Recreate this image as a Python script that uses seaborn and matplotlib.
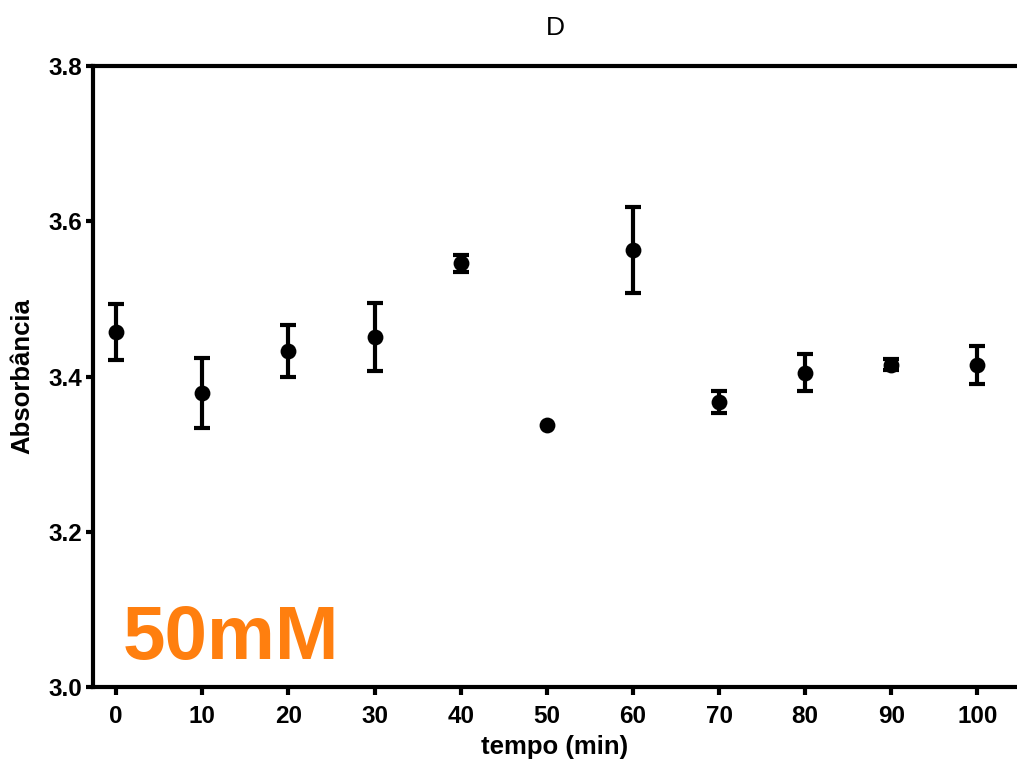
import matplotlib
matplotlib.use("Agg")
import matplotlib.pyplot as plt
import seaborn as sns
import pandas as pd

tempo = [0, 10, 20, 30, 40, 50, 60, 70, 80, 90, 100]
absorbancia = [3.457, 3.379, 3.433, 3.451, 3.546, 3.338, 3.563, 3.367, 3.405, 3.415, 3.415]
erro = [0.036, 0.045, 0.034, 0.044, 0.011, 0.0, 0.056, 0.014, 0.024, 0.007, 0.024]
yticks = [3.0, 3.2, 3.4, 3.6, 3.8]
xticks = [0, 10, 20, 30, 40, 50, 60, 70, 80, 90, 100]

df = pd.DataFrame({"tempo": tempo, "abs": absorbancia, "err": erro})
dfe = df[df["err"] > 0]

sns.set_style("ticks")
plt.rcParams['font.family'] = ['Liberation Sans', 'DejaVu Sans']
plt.rcParams['text.color'] = 'black'
plt.rcParams['axes.labelcolor'] = 'black'
plt.rcParams['xtick.color'] = 'black'
plt.rcParams['ytick.color'] = 'black'

fig = plt.figure(figsize=(10.17, 7.67), dpi=100)
ax = fig.add_axes([0.0914, 0.1043, 0.9086, 0.8096])

ax.errorbar(dfe["tempo"], dfe["abs"], yerr=dfe["err"], fmt="none", ecolor="black",
            elinewidth=3, capsize=6, capthick=3, zorder=2)
sns.scatterplot(data=df, x="tempo", y="abs", ax=ax, color="black", s=130,
                edgecolor="black", linewidth=0, zorder=3)

ax.set_xlim(-2.7, 104.6)
ax.set_ylim(3.0, 3.8)
ax.set_xticks(xticks)
ax.set_yticks(yticks)
ax.set_yticklabels([f"{v:.1f}" for v in yticks])

for side in ["left", "bottom", "top"]:
    ax.spines[side].set_linewidth(3)
    ax.spines[side].set_color("black")
ax.spines["right"].set_visible(False)

ax.tick_params(axis="x", direction="out", length=6, width=3, color="black",
               labelcolor="black", labelsize=17.5, pad=7)
ax.tick_params(axis="y", direction="out", length=5, width=3, color="black",
               labelcolor="black", labelsize=17.5, pad=3)
for lbl in ax.get_xticklabels() + ax.get_yticklabels():
    lbl.set_fontweight("bold")

ax.set_xlabel("tempo (min)", fontsize=18.5, fontweight="bold", labelpad=5)
ax.set_ylabel("Absorbância", fontsize=18.5, fontweight="bold", labelpad=10)
ax.set_title("D", fontsize=19, pad=22)

ax.text(0.032, 0.02, "50mM", transform=ax.transAxes, color="#FF7F0F",
        fontsize=55, fontweight="bold", ha="left", va="bottom")

fig.savefig("out.png", dpi=100)
